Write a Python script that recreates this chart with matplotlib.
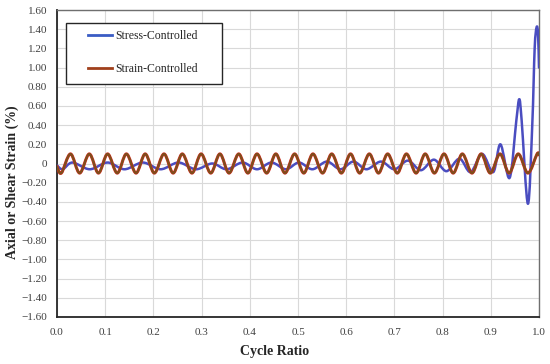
import numpy as np
import matplotlib
matplotlib.use("Agg")
import matplotlib.pyplot as plt
from matplotlib.path import Path
from matplotlib.patches import PathPatch, Rectangle
from matplotlib.lines import Line2D

plt.rcParams['font.family'] = ['Liberation Serif', 'DejaVu Serif']

# ---------------- data ----------------
strain_x = [0.000, 0.009, 0.028, 0.047, 0.067, 0.086, 0.105, 0.125, 0.144, 0.164,
            0.183, 0.202, 0.222, 0.241, 0.260, 0.280, 0.299, 0.319, 0.338, 0.357,
            0.377, 0.396, 0.415, 0.435, 0.454, 0.473, 0.493, 0.512, 0.531, 0.551,
            0.570, 0.590, 0.609, 0.628, 0.648, 0.667, 0.686, 0.706, 0.725, 0.745,
            0.764, 0.783, 0.803, 0.822, 0.841, 0.861, 0.880, 0.899, 0.919, 0.938,
            0.957, 0.977, 0.996, 1.000]
strain_y = [-0.03, -0.10, 0.10, -0.10, 0.10, -0.10, 0.10, -0.10, 0.10, -0.10,
            0.10, -0.10, 0.10, -0.10, 0.10, -0.10, 0.10, -0.10, 0.10, -0.10,
            0.10, -0.10, 0.10, -0.10, 0.10, -0.10, 0.10, -0.10, 0.10, -0.10,
            0.10, -0.10, 0.10, -0.10, 0.10, -0.10, 0.10, -0.10, 0.10, -0.10,
            0.10, -0.10, 0.10, -0.10, 0.10, -0.10, 0.10, -0.10, 0.10, -0.10,
            0.10, -0.10, 0.10, 0.09]

stress_x = [0.000, 0.012, 0.032, 0.068, 0.105, 0.140, 0.178, 0.215, 0.252, 0.288,
            0.322, 0.352, 0.385, 0.415, 0.445, 0.475, 0.502, 0.530, 0.560, 0.588,
            0.615, 0.642, 0.672, 0.700, 0.728, 0.755, 0.782, 0.808, 0.835, 0.858,
            0.882, 0.905, 0.920, 0.939, 0.953, 0.959, 0.964, 0.977, 0.986, 0.991,
            0.995, 0.998, 1.000]
stress_y = [-0.02, -0.06, 0.01, -0.06, 0.01, -0.06, 0.01, -0.06, 0.01, -0.06,
            0.00, -0.06, 0.01, -0.06, 0.01, -0.06, 0.01, -0.06, 0.02, -0.06,
            0.02, -0.06, 0.02, -0.06, 0.03, -0.07, 0.04, -0.08, 0.05, -0.09,
            0.10, -0.09, 0.20, -0.15, 0.45, 0.67, 0.45, -0.42, 0.40, 1.20,
            1.42, 1.35, 1.00]

series_labels = ["Stress-Controlled", "Strain-Controlled"]

x_ticks = [0.0, 0.1, 0.2, 0.3, 0.4, 0.5, 0.6, 0.7, 0.8, 0.9, 1.0]
x_tick_labels = ["0.0", "0.1", "0.2", "0.3", "0.4", "0.5", "0.6", "0.7", "0.8", "0.9", "1.0"]
y_ticks = [1.6, 1.4, 1.2, 1.0, 0.8, 0.6, 0.4, 0.2, 0.0, -0.2, -0.4, -0.6, -0.8,
           -1.0, -1.2, -1.4, -1.6]
y_tick_labels = ["1.60", "1.40", "1.20", "1.00", "0.80", "0.60", "0.40", "0.20", "0",
                 "\u22120.20", "\u22120.40", "\u22120.60", "\u22120.80", "\u22121.00",
                 "\u22121.20", "\u22121.40", "\u22121.60"]


def smooth_path(xs, ys):
    """Smoothed line through the data points (Catmull-Rom as cubic Bezier)."""
    pts = np.column_stack([xs, ys]).astype(float)
    n = len(pts)
    verts = [pts[0]]
    codes = [Path.MOVETO]
    for i in range(n - 1):
        p0 = pts[i - 1] if i > 0 else pts[i]
        p1 = pts[i]
        p2 = pts[i + 1]
        p3 = pts[i + 2] if i + 2 < n else pts[i + 1]
        c1 = p1 + (p2 - p0) / 6.0
        c2 = p2 - (p3 - p1) / 6.0
        verts += [c1, c2, p2]
        codes += [Path.CURVE4] * 3
    return Path(verts, codes)


fig = plt.figure(figsize=(5.5, 3.64), dpi=100)
ax = fig.add_axes([57 / 550, 47 / 364, 482 / 550, 307 / 364])

ax.set_xlim(0, 1)
ax.set_ylim(-1.6, 1.6)

blue = '#4a4dc0'
red = '#d42a1e'
brown = '#7d4f1c'

ax.add_patch(PathPatch(smooth_path(stress_x, stress_y), fill=False, edgecolor=blue,
                       lw=1.8, transform=ax.transData, zorder=3,
                       capstyle='round', joinstyle='round'))
ax.add_patch(PathPatch(smooth_path(strain_x, strain_y), fill=False, edgecolor=red,
                       lw=2.2, transform=ax.transData, zorder=4,
                       capstyle='round', joinstyle='round'))
ax.add_patch(PathPatch(smooth_path(strain_x, strain_y), fill=False, edgecolor=brown,
                       lw=1.5, transform=ax.transData, zorder=5,
                       capstyle='round', joinstyle='round'))

ax.set_xticks(x_ticks)
ax.set_xticklabels(x_tick_labels)
ax.set_yticks(y_ticks)
ax.set_yticklabels(y_tick_labels)
ax.tick_params(axis='both', length=0, labelsize=8, colors='#404040')
ax.tick_params(axis='y', pad=7)
ax.tick_params(axis='x', pad=8)

ax.grid(True, color='#d9d9d9', lw=0.8)
ax.set_axisbelow(True)

for s in ['top', 'right']:
    ax.spines[s].set_color('#6f6f6f')
    ax.spines[s].set_linewidth(1.0)
for s in ['left', 'bottom']:
    ax.spines[s].set_color('#262626')
    ax.spines[s].set_linewidth(1.3)

# axis titles (centred on the figure, like the source)
fig.text(0.5, 1 - 352 / 364, "Cycle Ratio", ha='center', va='center',
         fontsize=10, fontweight='bold', color='#262626')
fig.text(12 / 550, 0.5, "Axial or Shear Strain (%)", ha='center', va='center',
         rotation=90, fontsize=10, fontweight='bold', color='#262626')

# legend
ax.add_patch(Rectangle((9 / 482, (317 - 84) / 307), 156 / 482, 61 / 307,
                       transform=ax.transAxes, facecolor='white', edgecolor='#262626',
                       lw=1.0, zorder=6))
handles = [Line2D([], [], color='#3a5cc4', lw=2.0),
           Line2D([], [], color='#a0401c', lw=2.0)]
leg = ax.legend(handles, series_labels, loc='upper left',
                bbox_to_anchor=((88 - 57) / 482, (317 - 30) / 307),
                frameon=False, borderpad=0, borderaxespad=0, labelspacing=1.75,
                handlelength=2.0, handletextpad=0.3, fontsize=8.5)
leg.set_zorder(7)
for t in leg.get_texts():
    t.set_color('#262626')

fig.savefig('out.png', dpi=100)
